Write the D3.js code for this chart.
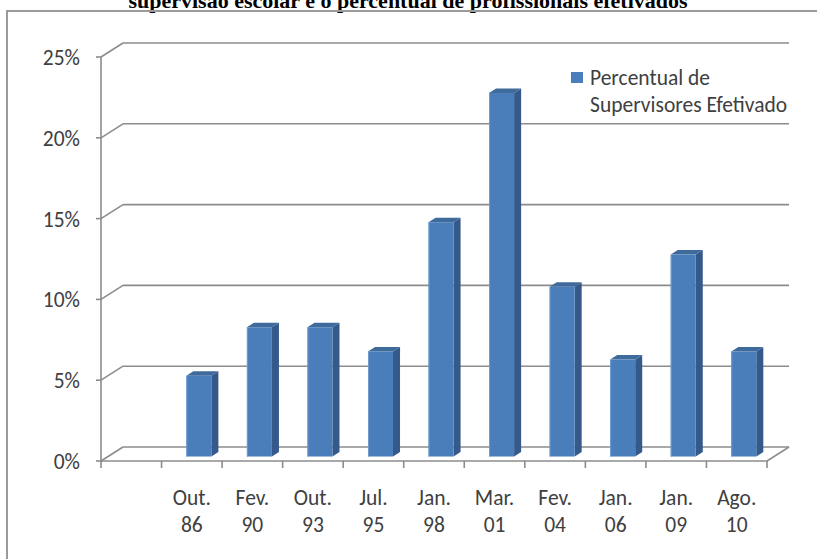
<!DOCTYPE html>
<html>
<head>
<meta charset="utf-8">
<script src="https://cdn.jsdelivr.net/npm/d3@7/dist/d3.min.js"></script>
<style>
  html, body { margin: 0; padding: 0; background: #fff; }
  svg { display: block; }
</style>
</head>
<body>
<svg id="chart" width="817" height="559"></svg>
<script>
// ---- data ----
const titleText = "supervisão escolar e o percentual de profissionais efetivados";
const categories = ["", "Out. 86", "Fev. 90", "Out. 93", "Jul. 95", "Jan. 98", "Mar. 01", "Fev. 04", "Jan. 06", "Jan. 09", "Ago. 10"];
const values = [null, 5, 8, 8, 6.5, 14.5, 22.5, 10.5, 6, 12.5, 6.5];
const yTicks = [0, 5, 10, 15, 20, 25];
const seriesName = ["Percentual de", "Supervisores Efetivado"];

// ---- setup ----
const svg = d3.select("#chart");
const FONT = "Carlito, Calibri, Lato, 'Open Sans', sans-serif";
const FS = 21.5;
const TXT = "#404040";
const GRID = "#8c8c8c";
const DX = 22, DY = -14;          // full depth offset
const Z0 = 0.32, Z1 = 0.64;       // bar depth range

const x = d3.scaleBand().domain(categories).range([101, 767]).padding(0);
const y = d3.scaleLinear().domain([0, 25]).range([461, 57]);

// title
svg.append("text")
  .attr("x", 408).attr("y", 8)
  .attr("text-anchor", "middle")
  .attr("font-family", "'Liberation Serif', 'Times New Roman', serif")
  .attr("font-weight", "bold")
  .attr("font-size", 22)
  .attr("fill", "#000")
  .text(titleText);

// chart border (left + top)
svg.append("path")
  .attr("d", "M7,565 L7,11 L830,11")
  .attr("fill", "none").attr("stroke", "#9a9a9a").attr("stroke-width", 2);

const x0 = x.range()[0], x1 = x.range()[1];
const grid = svg.append("g").attr("stroke", GRID).attr("stroke-width", 1.6).attr("fill", "none");

// back wall gridlines + side wall diagonals
yTicks.forEach(t => {
  const yy = y(t);
  grid.append("line").attr("x1", x0 + DX).attr("x2", x1 + DX).attr("y1", yy + DY).attr("y2", yy + DY);
  grid.append("line").attr("x1", x0).attr("x2", x0 + DX).attr("y1", yy).attr("y2", yy + DY);
});
// floor right edge
grid.append("line").attr("x1", x1).attr("y1", y(0)).attr("x2", x1 + DX).attr("y2", y(0) + DY);

// bars
const bw = 25;
const bars = svg.append("g");
categories.forEach((c, i) => {
  const v = values[i];
  if (v == null) return;
  const cx = x(c) + x.bandwidth() / 2;
  const fx0 = cx - bw / 2 + Z0 * DX;
  const fx1 = fx0 + bw;
  const fyb = y(0) + Z0 * DY;
  const fyt = y(v) + Z0 * DY;
  const ddx = (Z1 - Z0) * DX, ddy = (Z1 - Z0) * DY;
  bars.append("path")
    .attr("d", `M${fx1},${fyb} L${fx1 + ddx},${fyb + ddy} L${fx1 + ddx},${fyt + ddy} L${fx1},${fyt} Z`)
    .attr("fill", "#35598a");
  bars.append("path")
    .attr("d", `M${fx0},${fyt} L${fx1},${fyt} L${fx1 + ddx},${fyt + ddy} L${fx0 + ddx},${fyt + ddy} Z`)
    .attr("fill", "#3f6a9c");
  bars.append("rect")
    .attr("x", fx0).attr("y", fyt).attr("width", bw).attr("height", fyb - fyt)
    .attr("fill", "#4a7ebb");
  bars.append("line")
    .attr("x1", fx0 + 0.5).attr("x2", fx0 + 0.5).attr("y1", fyt).attr("y2", fyb)
    .attr("stroke", "#6f9bd1").attr("stroke-width", 1);
});

// axes (front)
const axisG = svg.append("g").attr("stroke", GRID).attr("stroke-width", 1.6).attr("fill", "none");
axisG.append("line").attr("x1", x0).attr("x2", x0).attr("y1", y(0)).attr("y2", y(25));
axisG.append("line").attr("x1", x0).attr("x2", x1).attr("y1", y(0)).attr("y2", y(0));
yTicks.forEach(t => {
  axisG.append("line").attr("x1", x0 - 5).attr("x2", x0).attr("y1", y(t)).attr("y2", y(t));
});
const bounds = categories.map(c => x(c)).concat([x1]);
bounds.forEach(b => {
  axisG.append("line").attr("x1", b).attr("x2", b).attr("y1", y(0)).attr("y2", y(0) + 7);
});

// y labels
svg.append("g").selectAll("text").data(yTicks).join("text")
  .attr("x", 80).attr("y", d => y(d) + 8)
  .attr("text-anchor", "end")
  .attr("font-family", FONT).attr("font-size", FS).attr("fill", TXT)
  .text(d => d + "%");

// x labels (two lines)
const xl = svg.append("g");
categories.forEach(c => {
  if (!c) return;
  const parts = c.split(" ");
  const cx = x(c) + x.bandwidth() / 2;
  parts.forEach((p, k) => {
    xl.append("text")
      .attr("x", cx).attr("y", 505 + k * 26.7)
      .attr("text-anchor", "middle")
      .attr("font-family", FONT).attr("font-size", FS).attr("fill", TXT)
      .text(p);
  });
});

// legend
svg.append("rect").attr("x", 571).attr("y", 72).attr("width", 12).attr("height", 11).attr("fill", "#4a7ebb");
seriesName.forEach((s, k) => {
  svg.append("text")
    .attr("x", 590).attr("y", 85 + k * 26.7)
    .attr("font-family", FONT).attr("font-size", FS).attr("fill", TXT)
    .text(s);
});
</script>
</body>
</html>
